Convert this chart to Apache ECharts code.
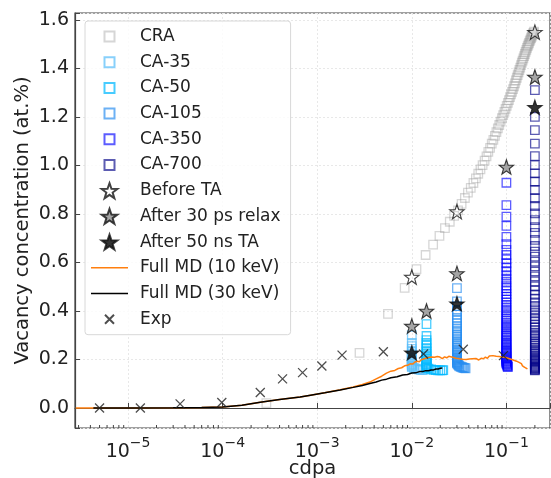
<!DOCTYPE html>
<html>
<head>
<meta charset="utf-8">
<script src="https://cdn.jsdelivr.net/npm/echarts@6/dist/echarts.min.js"></script>
<style>
html,body{margin:0;padding:0;background:#fff;}
#chart{width:551px;height:478px;}
</style>
</head>
<body>
<div id="chart"></div>
<script>
// ---------------- data ----------------
const craData = [[0.00029,0.02],[0.0028,0.227],[0.0056,0.388],[0.0084,0.495],[0.0112,0.573],[0.014,0.631],[0.0168,0.674],[0.0196,0.710],[0.0224,0.742],[0.0252,0.768],[0.028,0.792],[0.0308,0.815],[0.0336,0.842],[0.0364,0.866],[0.0392,0.888],[0.042,0.908],[0.0448,0.928],[0.0476,0.947],[0.0504,0.966],[0.0532,0.984],[0.056,1.002],[0.0588,1.020],[0.0616,1.038],[0.0644,1.056],[0.0672,1.073],[0.07,1.090],[0.0728,1.106],[0.0756,1.122],[0.0784,1.138],[0.0812,1.153],[0.084,1.167],[0.0868,1.181],[0.0896,1.195],[0.0924,1.208],[0.0952,1.221],[0.098,1.234],[0.1008,1.246],[0.1036,1.258],[0.1064,1.270],[0.1092,1.282],[0.112,1.293],[0.1148,1.304],[0.1176,1.315],[0.1204,1.327],[0.1232,1.339],[0.126,1.351],[0.1288,1.362],[0.1316,1.373],[0.1344,1.384],[0.1372,1.394],[0.14,1.404],[0.1428,1.414],[0.1456,1.424],[0.1484,1.433],[0.1512,1.442],[0.154,1.451],[0.1568,1.460],[0.1596,1.469],[0.1624,1.477],[0.1652,1.485],[0.168,1.492],[0.1708,1.499],[0.1736,1.506],[0.1764,1.513],[0.1792,1.519],[0.182,1.525],[0.1848,1.531],[0.1876,1.537],[0.1904,1.542],[0.1932,1.547],[0.196,1.552]];

const ca35Dose = 0.01;
const ca35Vac = [0.30,0.268,0.255,0.244,0.234,0.225,0.217,0.21,0.203,0.197,0.191,0.186,0.181,0.177,0.173,0.169];
const ca35Tail = [[0.0105,0.165],[0.011,0.162],[0.0115,0.16],[0.012,0.158],[0.0125,0.157],[0.013,0.156]];

const ca50Dose = 0.0143;
const ca50Vac = [0.346,0.297,0.28,0.268,0.257,0.247,0.238,0.23,0.222,0.215,0.208,0.202,0.196,0.191,0.186,0.181,0.177,0.173,0.169,0.165];
const ca50Tail = [[0.015,0.162],[0.016,0.159],[0.017,0.157],[0.018,0.156],[0.019,0.155],[0.02,0.155],[0.021,0.155],[0.0215,0.156]];

const ca105Dose = 0.03;
const ca105Vac = [0.494,0.44,0.42,0.40,0.385,0.372,0.36,0.349,0.338,0.328,0.318,0.309,0.3,0.292,0.284,0.276,0.269,0.262,0.255,0.249,0.243,0.237,0.231,0.226,0.221,0.216,0.211,0.207,0.203,0.199,0.195,0.191,0.188,0.185];
const ca105Tail = [[0.0305,0.181],[0.031,0.178],[0.0315,0.175],[0.032,0.172],[0.033,0.17],[0.034,0.168],[0.035,0.166],[0.036,0.165],[0.037,0.164]];

const ca350Dose = 0.1;
const ca350Vac = [0.929,0.837,0.789,0.751,0.706,0.676,0.652,0.631,0.613,0.597,0.580,0.564,0.548,0.533,0.520,0.506,0.494,0.482,0.47,0.458,0.447,0.436,0.425,0.415,0.405,0.395,0.385,0.376,0.367,0.358,0.35,0.342,0.334,0.326,0.318,0.311,0.304,0.297,0.29,0.283,0.277,0.271,0.265,0.259,0.253,0.247,0.242,0.237,0.232,0.227,0.222,0.217,0.213,0.209,0.205,0.201,0.197,0.193,0.19,0.187,0.184];
const ca350Tail = [[0.101,0.181],[0.102,0.178],[0.1025,0.175],[0.103,0.172],[0.1035,0.169]];

const ca700Dose = 0.2;
const ca700Vac = [1.311,1.201,1.146,1.09,1.039,1.002,0.968,0.934,0.899,0.865,0.833,0.803,0.775,0.746,0.722,0.693,0.668,0.645,0.624,0.604,0.584,0.563,0.543,0.522,0.502,0.484,0.467,0.451,0.436,0.421,0.407,0.393,0.38,0.367,0.355,0.343,0.332,0.321,0.311,0.301,0.292,0.283,0.274,0.266,0.258,0.25,0.243,0.236,0.229,0.223,0.217,0.211,0.205,0.2,0.195,0.19,0.185,0.181,0.177,0.173,0.169,0.166,0.163,0.16,0.157,0.155];

const beforeTA = [[0.01,0.54],[0.03,0.81],[0.2,1.55]];
const after30ps = [[0.01,0.338],[0.0143,0.40],[0.03,0.555],[0.1,0.994],[0.2,1.365]];
const after50ns = [[0.01,0.228],[0.03,0.43],[0.2,1.24]];

const md10keV = [[2.8e-6,0.0],[1e-5,0.0],[3e-5,0.001],[6e-5,0.002],[1e-4,0.004],[1.6e-4,0.011],[2.5e-4,0.024],[4e-4,0.035],[6.6e-4,0.045],[8.5e-4,0.053],[1.2e-3,0.063],[1.75e-3,0.075],[2.4e-3,0.087],[3e-3,0.097],[3.6e-3,0.107],[4.2e-3,0.12],[4.8e-3,0.131],[5.4e-3,0.144],[6e-3,0.152],[6.6e-3,0.155],[7.2e-3,0.163],[7.8e-3,0.166],[8.4e-3,0.174],[9e-3,0.176],[9.6e-3,0.182],[0.0102,0.181],[0.0108,0.19],[0.0114,0.193],[0.012,0.191],[0.0126,0.199],[0.0132,0.196],[0.0138,0.204],[0.0144,0.202],[0.015,0.208],[0.0156,0.205],[0.0162,0.21],[0.0168,0.203],[0.0174,0.209],[0.018,0.206],[0.0186,0.212],[0.0192,0.205],[0.0198,0.21],[0.021,0.204],[0.0222,0.211],[0.0234,0.207],[0.0246,0.213],[0.0258,0.205],[0.027,0.209],[0.0282,0.201],[0.0294,0.205],[0.0306,0.199],[0.0318,0.203],[0.033,0.196],[0.0345,0.201],[0.036,0.195],[0.0375,0.2],[0.039,0.196],[0.0405,0.202],[0.042,0.197],[0.0435,0.203],[0.045,0.198],[0.048,0.204],[0.051,0.198],[0.054,0.205],[0.057,0.203],[0.06,0.21],[0.063,0.205],[0.066,0.214],[0.069,0.209],[0.072,0.216],[0.075,0.208],[0.078,0.213],[0.081,0.206],[0.084,0.212],[0.087,0.205],[0.09,0.21],[0.093,0.204],[0.096,0.209],[0.099,0.202],[0.102,0.206],[0.105,0.198],[0.108,0.203],[0.111,0.196],[0.114,0.2],[0.117,0.192],[0.12,0.197],[0.124,0.189],[0.128,0.193],[0.132,0.185],[0.136,0.188],[0.14,0.18],[0.144,0.183],[0.148,0.174],[0.152,0.177],[0.156,0.168],[0.16,0.172],[0.164,0.162],[0.166,0.165]];

const md30keV = [[4.3e-6,0.0],[1e-5,0.0],[3e-5,0.001],[6e-5,0.002],[1e-4,0.004],[1.6e-4,0.011],[2.5e-4,0.024],[4e-4,0.035],[6.6e-4,0.045],[8.5e-4,0.053],[1.2e-3,0.063],[1.75e-3,0.074],[2.4e-3,0.085],[3e-3,0.093],[3.6e-3,0.101],[4.2e-3,0.107],[4.8e-3,0.115],[5.4e-3,0.119],[6e-3,0.125],[7e-3,0.129],[8e-3,0.136],[9e-3,0.138],[0.01,0.144],[0.011,0.145],[0.012,0.15],[0.013,0.15],[0.014,0.154],[0.015,0.154],[0.016,0.157],[0.017,0.157],[0.018,0.161],[0.019,0.161],[0.02,0.164],[0.021,0.165]];

const expData = [[5e-6,0.0],[1.35e-5,0.0],[3.55e-5,0.017],[9.8e-5,0.023],[2.5e-4,0.064],[4.3e-4,0.12],[7e-4,0.146],[1.12e-3,0.173],[1.83e-3,0.218],[5e-3,0.232],[0.0133,0.223],[0.035,0.242],[0.093,0.216]];

const xMin = 2.75e-6, xMax = 0.289;
const yMin = -0.0825, yMax = 1.629;
const yTickStep = 0.2;
const minorTickVals = [3e-6,4e-6,5e-6,6e-6,7e-6,8e-6,9e-6,2e-5,3e-5,4e-5,5e-5,6e-5,7e-5,8e-5,9e-5,2e-4,3e-4,4e-4,5e-4,6e-4,7e-4,8e-4,9e-4,2e-3,3e-3,4e-3,5e-3,6e-3,7e-3,8e-3,9e-3,0.02,0.03,0.04,0.05,0.06,0.07,0.08,0.09,0.2];

// ---------------- chart ----------------
const FONT = 'DejaVu Sans';
const starPath = 'path://M0,-10L2.35,-3.24L9.51,-3.09L3.8,1.24L5.88,8.09L0,4L-5.88,8.09L-3.8,1.24L-9.51,-3.09L-2.35,-3.24Z';
const xPath = 'path://M0,0L10,10M10,0L0,10';
const sqIcon = 'path://M0,0M15,15M2.5,2.5L12.5,2.5L12.5,12.5L2.5,12.5Z';
const xIcon = 'path://M0,0M15,15M3,3L12,12M12,3L3,12';
const lineIcon = 'path://M0,0M37,15M0,6.7L37,6.7L37,8.3L0,8.3Z';

function colSeries(dose, vac, tail){ return vac.map(v => [dose, v]).concat(tail || []); }

function squares(name, data, color){
  return {name, type:'scatter', data, symbol:'rect', symbolSize:8.5, z:2,
    itemStyle:{color:'rgba(0,0,0,0)', borderColor:color, borderWidth:1.3}, silent:true};
}
function stars(name, data, fill){
  return {name, type:'scatter', data, symbol:starPath, symbolSize:14.5, z:5,
    itemStyle:{color:fill, borderColor:'#111', borderWidth:1.1}, silent:true};
}

const chart = echarts.init(document.getElementById('chart'), null, {renderer:'canvas'});
chart.setOption({
  animation:false,
  backgroundColor:'#fff',
  textStyle:{fontFamily:FONT},
  grid:{left:75, right:1, top:13, bottom:50, containLabel:false, outerBoundsMode:'none',
    show:true, borderColor:'#444', borderWidth:1.2, backgroundColor:'transparent'},
  legend:{
    orient:'vertical', left:85, top:21, itemWidth:37, itemHeight:15, itemGap:8.7,
    padding:[7,10,7,6], backgroundColor:'rgba(255,255,255,0.8)', borderColor:'#d8d8d8', borderWidth:1, borderRadius:3,
    textStyle:{fontSize:17, color:'#222', fontFamily:FONT, lineHeight:15, padding:[0,0,0,7]}, selectedMode:false,
    data:[
      {name:'CRA', icon:sqIcon},{name:'CA-35', icon:sqIcon},{name:'CA-50', icon:sqIcon},{name:'CA-105', icon:sqIcon},
      {name:'CA-350', icon:sqIcon},{name:'CA-700', icon:sqIcon},
      {name:'Before TA', icon:starPath},{name:'After 30 ps relax', icon:starPath},{name:'After 50 ns TA', icon:starPath},
      {name:'Full MD (10 keV)', icon:lineIcon},{name:'Full MD (30 keV)', icon:lineIcon},{name:'Exp', icon:xIcon}
    ]
  },
  xAxis:{
    type:'log', logBase:10, min:xMin, max:xMax,
    name:'cdpa', nameLocation:'middle', nameGap:31, nameMoveOverlap:false,
    nameTextStyle:{fontSize:19.5, color:'#222', fontFamily:FONT},
    axisLine:{show:true, lineStyle:{color:'#444', width:1.2}},
    axisTick:{show:true, inside:true, length:5, lineStyle:{color:'#444'}},
    splitLine:{show:true, lineStyle:{color:'#e8e8e8', width:1, type:[2,2]}},
    axisLabel:{
      margin:8, color:'#222', fontFamily:FONT,
      formatter:function(v){
        const e = Math.log10(v); const n = Math.round(e);
        if (Math.abs(e-n) > 1e-6) return '';
        return '{b|10}{s|\u2212' + (-n) + '}';
      },
      rich:{
        b:{fontSize:19, color:'#222', fontFamily:FONT, verticalAlign:'bottom', lineHeight:26},
        s:{fontSize:14, color:'#222', fontFamily:FONT, verticalAlign:'top', lineHeight:26}
      }
    }
  },
  yAxis:{
    type:'value', min:yMin, max:yMax, splitNumber:8,
    name:'Vacancy concentration (at.%)', nameLocation:'middle', nameGap:42, nameMoveOverlap:false,
    nameTextStyle:{fontSize:19.5, color:'#222', fontFamily:FONT},
    axisLine:{show:true, lineStyle:{color:'#444', width:1.2}},
    axisTick:{show:true, inside:true, length:5, lineStyle:{color:'#444'}},
    splitLine:{show:true, lineStyle:{color:'#e8e8e8', width:1, type:[2,2]}},
    axisLabel:{
      margin:6, fontSize:19, color:'#222', fontFamily:FONT,
      formatter:function(v){
        const r = Math.round(v/yTickStep)*yTickStep;
        if (Math.abs(v-r) > 1e-6) return '';
        return (Math.abs(r) < 1e-9 ? 0 : r).toFixed(1);
      }
    }
  },
  series:[
    squares('CRA', craData, 'rgba(140,140,140,0.45)'),
    squares('CA-35', colSeries(ca35Dose, ca35Vac, ca35Tail), 'rgba(90,190,250,0.9)'),
    squares('CA-50', colSeries(ca50Dose, ca50Vac, ca50Tail), 'rgba(0,185,255,0.9)'),
    squares('CA-105', colSeries(ca105Dose, ca105Vac, ca105Tail), 'rgba(40,140,240,0.85)'),
    squares('CA-350', colSeries(ca350Dose, ca350Vac, ca350Tail), 'rgba(0,0,255,0.8)'),
    squares('CA-700', colSeries(ca700Dose, ca700Vac), 'rgba(0,0,135,0.8)'),
    stars('Before TA', beforeTA, 'rgba(0,0,0,0)'),
    stars('After 30 ps relax', after30ps, '#8e8e8e'),
    stars('After 50 ns TA', after50ns, '#000'),
    {name:'Full MD (10 keV)', type:'line', data:md10keV, symbol:'none', showSymbol:false, z:3, silent:true,
      lineStyle:{color:'#ff7f0e', width:1.5}, itemStyle:{color:'#ff7f0e'}},
    {name:'Full MD (30 keV)', type:'line', data:md30keV, symbol:'none', showSymbol:false, z:3, silent:true,
      lineStyle:{color:'#000', width:1.5}, itemStyle:{color:'#000'}},
    {name:'Exp', type:'scatter', data:expData, symbol:xPath, symbolSize:9, z:6, silent:true,
      itemStyle:{color:'rgba(0,0,0,0)', borderColor:'#222', borderWidth:1.3}},
    {name:'minorTicks', type:'custom', data:minorTickVals.map(v=>[v]), z:7, silent:true, clip:false,
      renderItem:function(params, api){
        const p = api.coord([api.value(0), yMin]);
        return {type:'line', shape:{x1:p[0], y1:p[1], x2:p[0], y2:p[1]-3}, style:{stroke:'#444', lineWidth:1}};
      }}
  ]
});
</script>
</body>
</html>
